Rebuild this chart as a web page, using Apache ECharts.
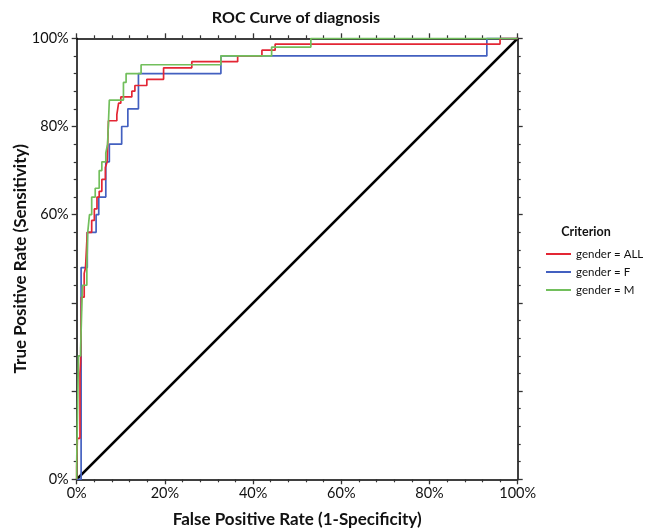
<!DOCTYPE html>
<html>
<head>
<meta charset="utf-8">
<script src="https://cdn.jsdelivr.net/npm/echarts@6/dist/echarts.min.js"></script>
<style>
html,body{margin:0;padding:0;background:#fff;}
#chart{width:654px;height:530px;}
</style>
</head>
<body>
<div id="chart"></div>
<script>
// ROC data (percent)
var fprAll = [0, 0, 0.15, 0.75, 0.9, 1.05, 1.7, 2.0, 2.4, 3.4, 4.0, 4.6, 5.1, 5.7, 6.5, 6.9, 7.2, 9.1, 9.5, 10.0, 12.5, 13.2, 15.9, 19.7, 26.1, 36.5, 42.0, 45.0, 96.0, 100];
var tprAll = [0, 2.7, 9.3, 24.0, 26.7, 41.3, 46.7, 48.0, 56.0, 58.7, 61.3, 64.0, 65.3, 68.0, 70.7, 72.0, 81.3, 82.7, 85.3, 86.7, 88.0, 89.3, 90.7, 93.3, 94.7, 96.0, 97.3, 98.7, 100, 100];

var fprF = [0, 1.0, 2.4, 4.4, 5.0, 6.6, 7.4, 10.2, 11.6, 14.0, 32.7, 93.0, 100];
var tprF = [0, 48, 56, 60, 64, 72, 76, 80, 84, 92, 96, 100, 100];

var fprM = [0, 0, 0.4, 0.9, 1.3, 2.3, 2.5, 2.9, 3.4, 4.2, 5.1, 5.7, 6.6, 7.0, 7.4, 10.6, 11.2, 14.6, 32.7, 44.2, 53.1, 100];
var tprM = [0, 4, 28, 30, 44, 48, 56, 60, 64, 66, 70, 72, 74, 76, 86, 90, 92, 94, 96, 98, 100, 100];

var seriesNames = ['gender = ALL', 'gender = F', 'gender = M'];
var seriesColors = ['#e32634', '#4360c0', '#72bf5c'];
var yLabelsShown = [0, 60, 80, 100];

function pairs(xs, ys) { return xs.map(function (x, i) { return [x, ys[i]]; }); }

var FONT = 'Lato';
var chart = echarts.init(document.getElementById('chart'), null, { renderer: 'canvas' });

function axisBase() {
  return {
    type: 'value', min: 0, max: 100, interval: 20,
    axisLine: { show: true, onZero: false, lineStyle: { color: '#000', width: 1.5 } },
    axisTick: { show: true, inside: false, length: 5, lineStyle: { color: '#333', width: 1.3 } },
    minorTick: { show: true, splitNumber: 5, length: 3, lineStyle: { color: '#333', width: 1.2 } },
    splitLine: { show: false },
    minorSplitLine: { show: false }
  };
}

var option = {
  animation: false,
  backgroundColor: '#fff',
  title: [
    { text: 'ROC Curve of diagnosis', left: 291, top: 5, textAlign: 'center',
      textStyle: { fontFamily: FONT, fontSize: 16, fontWeight: 'bold', color: '#111' } },
    { text: 'Criterion', left: 581, top: 220, textAlign: 'center',
      textStyle: { fontFamily: FONT, fontSize: 12.5, fontWeight: 'bold', color: '#111' } }
  ],
  legend: {
    orient: 'vertical', left: 541, top: 242,
    data: seriesNames,
    itemWidth: 25, itemHeight: 2, itemGap: 4,
    icon: 'rect',
    textStyle: { fontFamily: FONT, fontSize: 11.5, color: '#111', lineHeight: 14 },
    selectedMode: false
  },
  grid: { left: 76.7, top: 38.3, width: 441, height: 441, containLabel: false, outerBoundsMode: 'none' },
  xAxis: [
    Object.assign(axisBase(), {
      position: 'bottom',
      name: 'False Positive Rate (1-Specificity)', nameLocation: 'middle', nameGap: 32, nameMoveOverlap: false,
      nameTextStyle: { fontFamily: FONT, fontSize: 17, fontWeight: 'bold', color: '#111' },
      axisLabel: { show: true, fontFamily: FONT, fontSize: 14.5, color: '#111', margin: 7,
        formatter: function (v) { return v + '%'; } }
    }),
    Object.assign(axisBase(), { position: 'top', axisLabel: { show: false } })
  ],
  yAxis: [
    Object.assign(axisBase(), {
      position: 'left',
      name: 'True Positive Rate (Sensitivity)', nameLocation: 'middle', nameGap: 48, nameMoveOverlap: false,
      nameTextStyle: { fontFamily: FONT, fontSize: 17, fontWeight: 'bold', color: '#111' },
      axisLabel: { show: true, fontFamily: FONT, fontSize: 14.5, color: '#111', margin: 8,
        formatter: function (v) { return yLabelsShown.indexOf(v) >= 0 ? v + '%' : ''; } }
    }),
    Object.assign(axisBase(), { position: 'right', axisLabel: { show: false } })
  ],
  series: [
    { name: 'diag', type: 'line', data: [[0, 0], [100, 100]], symbol: 'none', silent: true,
      lineStyle: { color: '#000', width: 2.6 }, z: 1 },
    { name: seriesNames[0], type: 'line', step: 'end', data: pairs(fprAll, tprAll), symbol: 'none',
      color: seriesColors[0], lineStyle: { color: seriesColors[0], width: 1.7 }, z: 3 },
    { name: seriesNames[1], type: 'line', step: 'end', data: pairs(fprF, tprF), symbol: 'none',
      color: seriesColors[1], lineStyle: { color: seriesColors[1], width: 1.7 }, z: 2 },
    { name: seriesNames[2], type: 'line', step: 'end', data: pairs(fprM, tprM), symbol: 'none',
      color: seriesColors[2], lineStyle: { color: seriesColors[2], width: 1.7 }, z: 4 }
  ]
};
chart.setOption(option);
</script>
</body>
</html>
